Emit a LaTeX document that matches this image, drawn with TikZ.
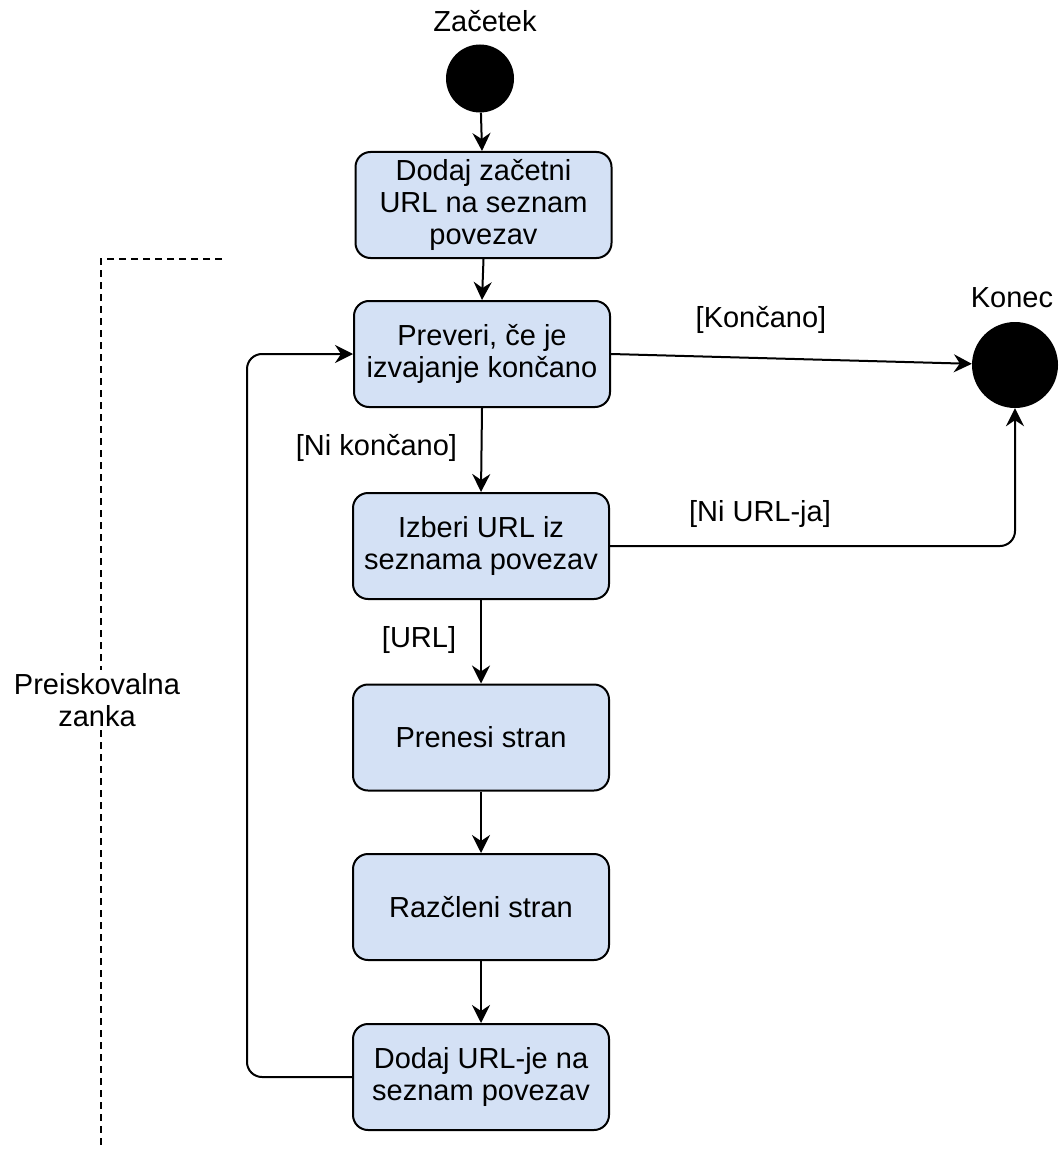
\documentclass[tikz,border=0pt]{standalone}
\usepackage{fontspec}
\setmainfont{Liberation Sans}
\usetikzlibrary{arrows.meta}
\definecolor{actfill}{HTML}{D4E1F5}
\begin{document}
\begin{tikzpicture}[x=1pt,y=-1pt,
  every node/.style={font=\fontsize{29}{32}\selectfont},
  action/.style={draw=black, line width=2pt, fill=actfill, rounded corners=15pt,
    minimum width=256pt, minimum height=106pt, align=center, inner sep=0pt},
  startdot/.style={circle, fill=black, minimum size=68pt, inner sep=0pt},
  enddot/.style={circle, fill=black, minimum size=86pt, inner sep=0pt},
  flow/.style={draw=black, line width=2pt,
    -{Stealth[length=18pt,width=18pt,inset=6pt]}},
  guard/.style={inner sep=0pt},
  frame/.style={draw=black, line width=2pt, dash pattern=on 7pt off 5pt}]
\useasboundingbox (0,0) rectangle (1063,1150);

% initial and final states
\node[startdot] (start) at (480,78.5) {};
\node[anchor=base] (startlbl) at (485,32) {Začetek};
\node[enddot] (end) at (1015,365) {};
\node[anchor=base] (endlbl) at (1012,307) {Konec};

% activities
\node[action] (add)   at (483.5,205) {Dodaj začetni\\URL na seznam\\povezav};
\node[action] (check) at (482,354)   {Preveri, če je\\izvajanje končano};
\node[action] (pick)  at (481,546)   {Izberi URL iz\\seznama povezav};
\node[action] (fetch) at (481,737.5) {Prenesi stran};
\node[action] (parse) at (481,907)   {Razčleni stran};
\node[action] (store) at (481,1077)  {Dodaj URL-je na\\seznam povezav};

% guards
\node[guard] (gdone)   at (761,320)   {[Končano]};
\node[guard] (gnourl)  at (760,514)   {[Ni URL-ja]};
\node[guard] (gnotdone) at (376.5,448) {[Ni končano]};
\node[guard] (gurl)    at (419,640)   {[URL]};

% transitions
\draw[flow] (start) -- (add);
\draw[flow] (add.south) -- (check.north);
\draw[flow] (check.south) -- (pick.north);
\draw[flow] (pick.south) -- (fetch.north);
\draw[flow] (fetch.south) -- (parse.north);
\draw[flow] (parse.south) -- (store.north);
\draw[flow] (check.east) -- (end);
\draw[flow, rounded corners=15pt] (pick.east) -| (end.south);
\draw[flow, rounded corners=15pt] (store.west) -- ++(-105,0) |- (check.west);

% crawl-loop bracket
\node[align=center] (loopname) at (97,700) {Preiskovalna\\zanka};
\coordinate (frameTop) at (222,259);
\coordinate (frameCorner) at (101,259);
\coordinate (frameBottom) at (101,1150);
\draw[frame] (frameTop) -- (frameCorner) -- (frameCorner |- loopname.north);
\draw[frame] (frameCorner |- loopname.south) -- (frameBottom);
\end{tikzpicture}
\end{document}
